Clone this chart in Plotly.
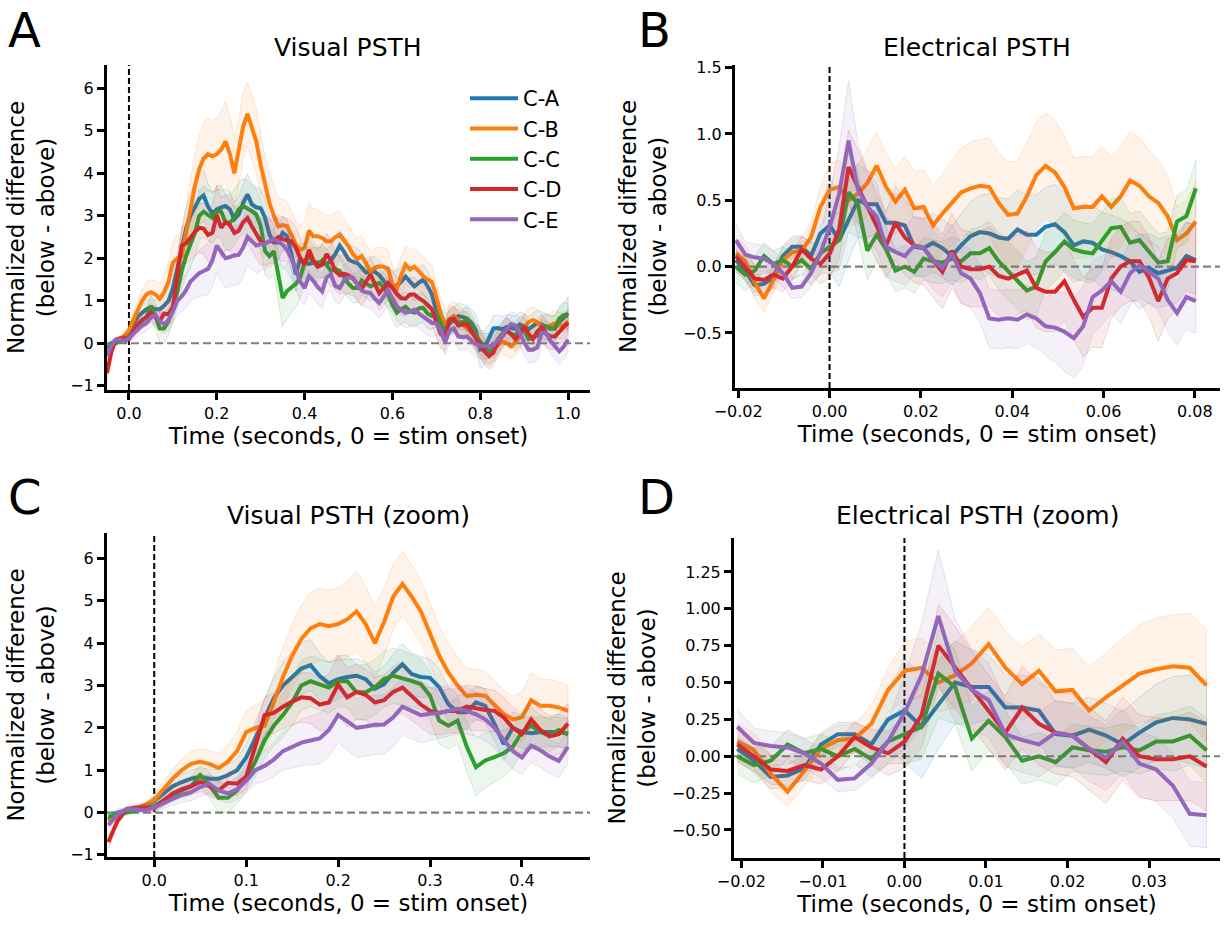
import numpy as np
import plotly.graph_objects as go

# ---------------- data ----------------
labels = ["C-A", "C-B", "C-C", "C-D", "C-E"]
colors = ["#1f77b4", "#ff7f0e", "#2ca02c", "#d62728", "#9467bd"]
rgbs = [(31, 119, 180), (255, 127, 14), (44, 160, 44), (214, 39, 40), (148, 103, 189)]

# Visual PSTH time axis (s): -0.05 .. 1.00 step 0.01 (106 points)
vis_t = np.round(np.arange(-0.05, 1.0001, 0.01), 2)
vis_zoom_end = 0.45

vis_ca = [-0.15, 0.00, 0.05, 0.08, 0.15, 0.28, 0.45, 0.62, 0.72, 0.80, 0.84, 0.80, 0.80, 0.88, 1.00, 1.30, 1.75, 2.25, 2.70, 3.00,
          3.20, 3.40, 3.48, 3.22, 3.05, 3.15, 3.20, 3.23, 3.15, 2.92, 3.03, 3.30, 3.50, 3.27, 3.20, 3.18, 2.96, 2.56, 2.37, 2.37,
          2.60, 2.52, 2.10, 1.62, 2.00, 1.90, 1.87, 1.90, 1.90, 1.90, 1.86,
          1.95, 2.10, 2.30, 2.15, 1.97, 1.92, 1.89, 1.78, 1.66, 1.70, 1.68, 1.60, 1.45, 1.34, 1.36, 1.35, 1.45, 1.57, 1.45, 1.34,
          1.42, 1.50, 1.35, 1.15, 0.75, 0.52, 0.40, 0.46, 0.56, 0.64, 0.62, 0.58, 0.48, 0.30, -0.15, -0.10, 0.12, 0.35, 0.36, 0.33,
          0.38, 0.36, 0.34, 0.44, 0.40, 0.33, 0.40, 0.48, 0.44, 0.39, 0.34, 0.36, 0.50, 0.60, 0.71]
vis_cb = [-0.20, -0.05, 0.03, 0.08, 0.18, 0.30, 0.55, 0.80, 1.00, 1.15, 1.20, 1.15, 1.05, 1.20, 1.45, 1.90, 2.00, 2.05, 2.60, 3.20,
          3.70, 4.10, 4.35, 4.45, 4.40, 4.45, 4.56, 4.75, 4.45, 4.00, 4.50, 5.10, 5.40, 5.10, 4.75, 4.20, 3.70, 3.30, 3.00, 2.75,
          2.78, 2.76, 2.55, 2.33, 2.20, 2.25, 2.65, 2.52, 2.52, 2.48, 2.40,
          2.40, 2.50, 2.56, 2.42, 2.28, 2.10, 1.98, 2.05, 1.88, 1.70, 1.78, 1.81, 1.80, 1.75, 1.38, 1.28, 1.60, 1.85, 1.74, 1.80,
          1.70, 1.58, 1.50, 1.44, 1.10, 0.70, 0.42, 0.58, 0.64, 0.55, 0.45, 0.34, 0.25, 0.16, 0.00, -0.18, -0.23, -0.14, -0.04, 0.04,
          0.00, -0.07, 0.02, 0.15, 0.38, 0.50, 0.55, 0.49, 0.40, 0.33, 0.42, 0.47, 0.42, 0.42, 0.52]
vis_cc = [-0.10, -0.05, 0.00, 0.05, 0.12, 0.15, 0.28, 0.42, 0.52, 0.62, 0.88, 0.65, 0.35, 0.35, 0.52, 0.82, 1.20, 1.70, 2.05, 2.30,
          2.60, 3.00, 3.10, 3.02, 2.95, 3.10, 3.10, 2.84, 2.84, 2.96, 3.15, 3.23, 3.18, 3.11, 3.03, 2.76, 2.17, 2.05, 2.17, 1.55,
          1.07, 1.23, 1.31, 1.40, 1.55, 1.90, 2.05, 1.90, 1.82, 1.95, 1.85,
          1.70, 1.75, 1.70, 1.55, 1.40, 1.30, 1.30, 1.48, 1.42, 1.34, 1.38, 1.42, 1.32, 1.16, 0.90, 0.72, 0.80, 0.86, 0.76, 0.72,
          0.82, 0.84, 0.70, 0.64, 0.68, 0.45, 0.26, 0.48, 0.54, 0.48, 0.50, 0.56, 0.40, 0.18, 0.04, -0.08, -0.20, -0.12, 0.09, 0.22,
          0.30, 0.22, 0.18, 0.34, 0.30, 0.10, 0.12, 0.18, 0.32, 0.40, 0.36, 0.34, 0.58, 0.66, 0.64]
vis_cd = [-0.70, -0.20, 0.08, 0.12, 0.12, 0.10, 0.28, 0.45, 0.55, 0.62, 0.72, 0.62, 0.52, 0.70, 0.68, 0.85, 1.55, 2.30, 2.35, 2.50,
          2.62, 2.72, 2.70, 2.55, 2.60, 3.02, 2.72, 2.85, 2.78, 2.60, 2.65, 2.85, 2.95, 2.75, 2.55, 2.40, 2.35, 2.40, 2.40, 2.50,
          2.45, 2.42, 2.40, 2.25, 2.00, 1.85, 2.20, 1.95, 1.80, 1.85, 2.10,
          1.95, 1.70, 1.60, 1.64, 1.60, 1.52, 1.40, 1.28, 1.45, 1.62, 1.40, 1.18, 1.30, 1.42, 1.30, 1.16, 1.06, 1.05, 1.15, 1.15,
          1.06, 1.00, 0.90, 0.80, 0.50, 0.22, 0.15, 0.55, 0.58, 0.42, 0.44, 0.45, 0.28, 0.12, -0.05, -0.20, -0.30, -0.22, 0.02, 0.18,
          0.30, 0.22, 0.10, 0.22, 0.40, 0.22, 0.10, 0.28, 0.38, 0.22, 0.16, 0.16, 0.28, 0.38, 0.48]
vis_ce = [-0.30, -0.05, 0.08, 0.08, 0.05, 0.12, 0.22, 0.32, 0.42, 0.48, 0.60, 0.68, 0.52, 0.45, 0.55, 0.75, 1.00, 1.10, 1.25, 1.45,
          1.55, 1.65, 1.70, 1.75, 1.95, 2.30, 2.15, 2.00, 2.03, 2.07, 2.08, 2.25, 2.50, 2.40, 2.30, 2.33, 2.35, 2.40, 2.45, 2.40,
          2.32, 2.20, 2.00, 1.72, 1.45, 1.30, 1.58, 1.47, 1.32, 1.22, 1.55,
          1.62, 1.35, 1.30, 1.48, 1.55, 1.55, 1.38, 1.24, 1.20, 1.18, 1.05, 0.95, 1.10, 1.25, 1.05, 0.88, 0.78, 0.72, 0.74, 0.79,
          0.70, 0.62, 0.54, 0.48, 0.48, 0.30, 0.02, 0.30, 0.35, 0.16, 0.14, 0.16, 0.06, -0.02, -0.06, -0.07, -0.07, -0.05, 0.05, 0.18,
          0.34, 0.45, 0.42, 0.25, 0.02, -0.15, -0.15, -0.10, 0.25, 0.25, 0.05, -0.08, -0.19, -0.08, 0.09]

# half-width of shaded error bands (visual)
vis_ca_err = [0.10, 0.08, 0.06, 0.06, 0.08, 0.10, 0.12, 0.15, 0.18, 0.20, 0.22, 0.22, 0.22, 0.25, 0.28, 0.32, 0.38, 0.42, 0.48, 0.55,
              0.60, 0.62, 0.60, 0.55, 0.50, 0.45, 0.42, 0.40, 0.40, 0.40, 0.42, 0.45, 0.48, 0.50, 0.48, 0.45, 0.42, 0.40, 0.40, 0.40,
              0.40, 0.40, 0.40, 0.40, 0.38, 0.38, 0.38, 0.35, 0.35, 0.35, 0.35, 0.35, 0.35, 0.35, 0.35, 0.35, 0.35, 0.35, 0.35, 0.35,
              0.35, 0.35, 0.35, 0.35, 0.35, 0.35, 0.35, 0.35, 0.35, 0.35, 0.35, 0.35, 0.35, 0.35, 0.32, 0.30, 0.30, 0.30, 0.30, 0.30,
              0.30, 0.30, 0.30, 0.32, 0.38, 0.45, 0.40, 0.32, 0.30, 0.30, 0.30, 0.30, 0.30, 0.30, 0.30, 0.30, 0.30, 0.30, 0.30, 0.30,
              0.30, 0.30, 0.30, 0.30, 0.32, 0.38]
vis_cb_err = [0.10, 0.08, 0.06, 0.06, 0.08, 0.12, 0.18, 0.22, 0.26, 0.30, 0.30, 0.32, 0.35, 0.40, 0.45, 0.50, 0.55, 0.60, 0.65, 0.70,
              0.75, 0.80, 0.85, 0.85, 0.85, 0.85, 0.90, 0.95, 0.90, 0.85, 0.80, 0.78, 0.75, 0.75, 0.75, 0.75, 0.70, 0.70, 0.68, 0.65,
              0.60, 0.58, 0.55, 0.55, 0.55, 0.60, 0.65, 0.65, 0.62, 0.60, 0.60, 0.60, 0.58, 0.55, 0.52, 0.50, 0.50, 0.50, 0.48, 0.46,
              0.45, 0.45, 0.45, 0.45, 0.45, 0.45, 0.45, 0.45, 0.45, 0.45, 0.45, 0.45, 0.45, 0.42, 0.40, 0.38, 0.36, 0.35, 0.35, 0.35,
              0.35, 0.35, 0.32, 0.30, 0.30, 0.30, 0.30, 0.30, 0.30, 0.30, 0.30, 0.30, 0.30, 0.30, 0.30, 0.30, 0.30, 0.30, 0.30, 0.30,
              0.30, 0.30, 0.30, 0.30, 0.30, 0.30]
vis_cc_err = [0.10, 0.08, 0.06, 0.06, 0.08, 0.10, 0.12, 0.15, 0.18, 0.20, 0.25, 0.30, 0.35, 0.35, 0.32, 0.32, 0.36, 0.42, 0.48, 0.52,
              0.55, 0.58, 0.60, 0.60, 0.60, 0.60, 0.62, 0.65, 0.65, 0.65, 0.65, 0.65, 0.65, 0.62, 0.60, 0.58, 0.55, 0.55, 0.55, 0.58,
              0.68, 0.65, 0.60, 0.55, 0.50, 0.45, 0.42, 0.40, 0.38, 0.38, 0.38, 0.38, 0.36, 0.36, 0.35, 0.35, 0.35, 0.35, 0.35, 0.35,
              0.35, 0.35, 0.35, 0.35, 0.35, 0.35, 0.35, 0.35, 0.35, 0.35, 0.35, 0.35, 0.35, 0.35, 0.32, 0.30, 0.30, 0.30, 0.30, 0.30,
              0.30, 0.30, 0.30, 0.30, 0.30, 0.30, 0.30, 0.30, 0.30, 0.30, 0.30, 0.30, 0.30, 0.30, 0.30, 0.30, 0.30, 0.30, 0.30, 0.30,
              0.30, 0.30, 0.30, 0.30, 0.30, 0.30]
vis_cd_err = [0.15, 0.10, 0.06, 0.06, 0.08, 0.10, 0.12, 0.15, 0.18, 0.20, 0.22, 0.22, 0.22, 0.25, 0.28, 0.30, 0.36, 0.42, 0.48, 0.52,
              0.55, 0.58, 0.60, 0.62, 0.65, 0.70, 0.70, 0.65, 0.60, 0.60, 0.60, 0.60, 0.60, 0.58, 0.55, 0.55, 0.52, 0.52, 0.52, 0.52,
              0.52, 0.50, 0.48, 0.48, 0.48, 0.48, 0.48, 0.48, 0.48, 0.48, 0.48, 0.46, 0.46, 0.45, 0.45, 0.45, 0.40, 0.40, 0.40, 0.40,
              0.40, 0.40, 0.40, 0.40, 0.40, 0.40, 0.40, 0.40, 0.40, 0.40, 0.40, 0.40, 0.38, 0.35, 0.35, 0.35, 0.35, 0.32, 0.30, 0.30,
              0.30, 0.30, 0.30, 0.30, 0.30, 0.30, 0.30, 0.30, 0.30, 0.30, 0.30, 0.30, 0.30, 0.30, 0.30, 0.30, 0.30, 0.30, 0.30, 0.30,
              0.30, 0.30, 0.30, 0.30, 0.30, 0.30]
vis_ce_err = [0.10, 0.08, 0.06, 0.06, 0.08, 0.10, 0.12, 0.15, 0.18, 0.20, 0.22, 0.22, 0.22, 0.22, 0.25, 0.28, 0.32, 0.36, 0.40, 0.45,
              0.50, 0.55, 0.58, 0.60, 0.62, 0.65, 0.68, 0.70, 0.70, 0.70, 0.70, 0.70, 0.68, 0.65, 0.65, 0.62, 0.60, 0.60, 0.58, 0.55,
              0.52, 0.50, 0.48, 0.45, 0.42, 0.40, 0.40, 0.40, 0.40, 0.40, 0.38, 0.38, 0.38, 0.38, 0.36, 0.36, 0.36, 0.35, 0.35, 0.35,
              0.35, 0.35, 0.35, 0.35, 0.35, 0.35, 0.35, 0.35, 0.35, 0.35, 0.35, 0.35, 0.35, 0.35, 0.32, 0.30, 0.30, 0.30, 0.30, 0.30,
              0.30, 0.30, 0.30, 0.30, 0.30, 0.30, 0.30, 0.30, 0.30, 0.30, 0.30, 0.30, 0.30, 0.30, 0.30, 0.30, 0.30, 0.30, 0.30, 0.30,
              0.30, 0.30, 0.30, 0.30, 0.30, 0.30]

# Electrical PSTH time axis (s): 50 bins from -0.0205 to 0.0802
elec_t = np.linspace(-0.0205, 0.0802, 50)
elec_zoom_end = 0.0375

el_ca = [0.05, -0.03, -0.14, -0.13, -0.08, 0.08, 0.15, 0.15, 0.08, 0.25, 0.31, 0.20, 0.35, 0.50, 0.47, 0.47, 0.33, 0.33, 0.31, 0.15,
         0.14, 0.18, 0.14, 0.08, 0.16, 0.23, 0.26, 0.25, 0.22,
         0.21, 0.28, 0.24, 0.24, 0.30, 0.32, 0.26, 0.16, 0.19, 0.18, 0.13, 0.11, 0.08, 0.04, -0.04, -0.01, -0.05, -0.03, -0.01, 0.08, 0.05]
el_cb = [0.10, 0.04, -0.12, -0.24, -0.10, 0.05, 0.11, 0.12, 0.22, 0.45, 0.58, 0.60, 0.50, 0.55, 0.63, 0.76, 0.60, 0.49, 0.58, 0.44,
         0.45, 0.31, 0.40, 0.48, 0.56, 0.59, 0.61, 0.60, 0.48,
         0.39, 0.40, 0.53, 0.69, 0.76, 0.71, 0.60, 0.44, 0.45, 0.45, 0.53, 0.45, 0.53, 0.65, 0.61, 0.53, 0.48, 0.38, 0.20, 0.25, 0.34]
el_cc = [0.00, -0.06, -0.03, 0.08, 0.02, 0.05, 0.00, 0.05, -0.02, 0.10, 0.15, 0.20, 0.56, 0.47, 0.12, 0.24, 0.13, -0.03, 0.00, -0.04,
         0.06, 0.04, 0.03, 0.06, 0.04, 0.10, 0.10, 0.14, 0.04,
         -0.03, -0.10, -0.18, -0.15, 0.04, 0.11, 0.19, 0.13, 0.11, 0.10, 0.19, 0.29, 0.30, 0.18, 0.20, 0.11, 0.03, 0.04, 0.34, 0.38, 0.59]
el_cd = [0.08, 0.00, -0.09, -0.10, -0.06, -0.09, 0.00, 0.13, 0.06, 0.02, 0.10, 0.28, 0.75, 0.60, 0.45, 0.30, 0.16, 0.33, 0.22, 0.16,
         0.14, 0.05, -0.04, 0.12, 0.00, -0.02, -0.02, 0.00, -0.07,
         -0.09, -0.06, -0.03, -0.16, -0.19, -0.19, -0.11, -0.25, -0.38, -0.31, -0.31, -0.09, 0.00, 0.04, 0.04, -0.08, -0.26, -0.09, -0.05, 0.05, 0.04]
el_ce = [0.20, 0.09, 0.07, 0.06, 0.02, -0.05, -0.16, -0.15, -0.05, 0.10, 0.30, 0.55, 0.95, 0.58, 0.45, 0.38, 0.15, 0.11, 0.08, 0.16,
         0.14, 0.05, -0.01, 0.10, -0.05, -0.09, -0.20, -0.39, -0.40,
         -0.39, -0.40, -0.36, -0.39, -0.45, -0.46, -0.49, -0.54, -0.45, -0.23, -0.18, -0.11, -0.19, -0.05, 0.01, -0.04, -0.09, -0.25, -0.35, -0.23, -0.26]

el_ca_err = [0.08, 0.08, 0.08, 0.08, 0.08, 0.08, 0.08, 0.08, 0.10, 0.20, 0.35, 0.35, 0.30, 0.28, 0.25, 0.22, 0.22, 0.22, 0.22, 0.22,
             0.22, 0.22, 0.22, 0.22, 0.24, 0.26, 0.28, 0.30, 0.30, 0.30, 0.30, 0.30, 0.30, 0.30, 0.30, 0.30, 0.28, 0.28, 0.28, 0.28,
             0.28, 0.28, 0.28, 0.28, 0.26, 0.26, 0.26, 0.26, 0.26, 0.26]
el_cb_err = [0.12, 0.12, 0.12, 0.10, 0.10, 0.10, 0.10, 0.10, 0.12, 0.15, 0.20, 0.20, 0.20, 0.22, 0.25, 0.25, 0.25, 0.25, 0.25, 0.28,
             0.28, 0.30, 0.30, 0.32, 0.33, 0.35, 0.35, 0.37, 0.38, 0.40, 0.40, 0.40, 0.40, 0.40, 0.40, 0.38, 0.38, 0.38, 0.38, 0.38,
             0.38, 0.38, 0.37, 0.36, 0.35, 0.33, 0.30, 0.25, 0.25, 0.30]
el_cc_err = [0.12, 0.12, 0.10, 0.10, 0.10, 0.10, 0.10, 0.10, 0.12, 0.15, 0.20, 0.22, 0.30, 0.25, 0.22, 0.20, 0.18, 0.16, 0.16, 0.16,
             0.16, 0.16, 0.16, 0.16, 0.16, 0.18, 0.20, 0.20, 0.22, 0.22, 0.22, 0.22, 0.22, 0.22, 0.22, 0.22, 0.22, 0.22, 0.22, 0.22,
             0.22, 0.22, 0.22, 0.22, 0.22, 0.22, 0.22, 0.20, 0.20, 0.21]
el_cd_err = [0.12, 0.10, 0.10, 0.10, 0.10, 0.10, 0.10, 0.10, 0.12, 0.15, 0.18, 0.22, 0.28, 0.28, 0.26, 0.25, 0.25, 0.28, 0.28, 0.28,
             0.28, 0.28, 0.28, 0.28, 0.28, 0.28, 0.28, 0.30, 0.30, 0.30, 0.30, 0.30, 0.30, 0.30, 0.30, 0.30, 0.30, 0.30, 0.30, 0.30,
             0.30, 0.30, 0.30, 0.30, 0.30, 0.30, 0.30, 0.28, 0.28, 0.28]
el_ce_err = [0.12, 0.10, 0.10, 0.10, 0.10, 0.10, 0.08, 0.08, 0.10, 0.15, 0.25, 0.35, 0.45, 0.35, 0.28, 0.25, 0.22, 0.22, 0.22, 0.22,
             0.22, 0.22, 0.22, 0.22, 0.22, 0.22, 0.22, 0.22, 0.22, 0.22, 0.22, 0.22, 0.22, 0.22, 0.26, 0.30, 0.30, 0.30, 0.28, 0.26,
             0.24, 0.24, 0.24, 0.24, 0.24, 0.24, 0.24, 0.24, 0.24, 0.24]

vis_means = [vis_ca, vis_cb, vis_cc, vis_cd, vis_ce]
vis_errs = [vis_ca_err, vis_cb_err, vis_cc_err, vis_cd_err, vis_ce_err]
el_means = [el_ca, el_cb, el_cc, el_cd, el_ce]
el_errs = [el_ca_err, el_cb_err, el_cc_err, el_cd_err, el_ce_err]

# ---------------- figure ----------------
FONT = "DejaVu Sans"
W, H = 1225, 926

def px_x(p):
    return p / W

def px_y(p):
    return 1 - p / H

panels = [
    dict(ax="", t=vis_t, means=vis_means, errs=vis_errs, tend=None, xr=[-0.05, 1.05], yr=[-1.1, 6.55],
         xd=(107, 590), yd=(65, 390), dx=0.2, fx=".1f", dy=1, fy="d", legend=True),
    dict(ax="2", t=elec_t, means=el_means, errs=el_errs, tend=None, xr=[-0.0207, 0.0855], yr=[-0.915, 1.52],
         xd=(735, 1220), yd=(65, 388), dx=0.02, fx=".2f", dy=0.5, fy=".1f", legend=False),
    dict(ax="3", t=vis_t, means=vis_means, errs=vis_errs, tend=vis_zoom_end + 0.005, xr=[-0.0514, 0.474], yr=[-1.05, 6.6],
         xd=(107, 590), yd=(533, 857), dx=0.1, fx=".1f", dy=1, fy="d", legend=False),
    dict(ax="4", t=elec_t, means=el_means, errs=el_errs, tend=elec_zoom_end, xr=[-0.0209, 0.0387], yr=[-0.69, 1.48],
         xd=(734, 1220), yd=(538, 858), dx=0.01, fx=".2f", dy=0.25, fy=".2f", legend=False),
]

fig = go.Figure()
shapes = []
layout_axes = {}

axis_common = dict(showline=True, linewidth=3, linecolor="black", mirror=False,
                   ticks="outside", ticklen=7, tickwidth=3, tickcolor="black",
                   showgrid=False, zeroline=False, automargin=False,
                   tickfont=dict(family=FONT, size=16, color="black"))

for p in panels:
    xa = "x" + p["ax"]
    ya = "y" + p["ax"]
    t = np.asarray(p["t"])
    mask = np.ones(len(t), dtype=bool) if p["tend"] is None else (t <= p["tend"])
    tt = t[mask]
    for i in range(5):
        m = np.asarray(p["means"][i])[mask]
        e = np.asarray(p["errs"][i])[mask]
        r, g, b = rgbs[i]
        fig.add_trace(go.Scatter(
            x=np.concatenate([tt, tt[::-1]]),
            y=np.concatenate([m + e, (m - e)[::-1]]),
            fill="toself", fillcolor=f"rgba({r},{g},{b},0.09)",
            line=dict(color=f"rgba({r},{g},{b},0.18)", width=1),
            mode="lines", hoverinfo="skip", showlegend=False,
            xaxis=xa, yaxis=ya))
        fig.add_trace(go.Scatter(
            x=tt, y=m, mode="lines", name=labels[i],
            line=dict(color=colors[i], width=4),
            showlegend=p["legend"], legendgroup=labels[i],
            xaxis=xa, yaxis=ya))
    shapes.append(dict(type="line", xref=f"{xa} domain", x0=0, x1=1, yref=ya, y0=0, y1=0,
                       line=dict(color="grey", width=2.2, dash="8px,4px"), layer="below"))
    shapes.append(dict(type="line", xref=xa, x0=0, x1=0, yref=f"{ya} domain", y0=0, y1=1,
                       line=dict(color="black", width=2, dash="6px,3px"), layer="below"))

    xkey = "xaxis" + p["ax"]
    ykey = "yaxis" + p["ax"]
    layout_axes[xkey] = dict(axis_common, domain=[px_x(p["xd"][0]), px_x(p["xd"][1])], anchor=ya,
                             range=p["xr"], dtick=p["dx"], tick0=0, tickformat=p["fx"],
                             title=dict(text="Time (seconds, 0 = stim onset)",
                                        font=dict(family=FONT, size=23, color="black"), standoff=4))
    layout_axes[ykey] = dict(axis_common, domain=[px_y(p["yd"][1]), px_y(p["yd"][0])], anchor=xa,
                             range=p["yr"], dtick=p["dy"], tick0=0, tickformat=p["fy"],
                             title=dict(text="Normalized difference<br>(below - above)",
                                        font=dict(family=FONT, size=23, color="black"), standoff=10))

titles = [("Visual PSTH", 348), ("Electrical PSTH", 977), ("Visual PSTH (zoom)", 348), ("Electrical PSTH (zoom)", 977)]
title_y = [47, 47, 515, 515]
letters = [("A", 6, 30), ("B", 636, 30), ("C", 6, 497), ("D", 636, 497)]
annotations = []
for (txt, cx), ty in zip(titles, title_y):
    annotations.append(dict(text=txt, x=px_x(cx), y=px_y(ty), xref="paper", yref="paper",
                            xanchor="center", yanchor="middle", showarrow=False,
                            font=dict(family=FONT, size=25, color="black")))
for txt, lx, ly in letters:
    annotations.append(dict(text=txt, x=px_x(lx), y=px_y(ly), xref="paper", yref="paper",
                            xanchor="left", yanchor="middle", showarrow=False,
                            font=dict(family=FONT, size=48, color="black")))

fig.update_layout(
    width=W, height=H,
    margin=dict(l=0, r=0, t=0, b=0, autoexpand=False),
    paper_bgcolor="white", plot_bgcolor="white",
    font=dict(family=FONT, color="black"),
    shapes=shapes, annotations=annotations,
    legend=dict(x=px_x(465), y=px_y(78), xanchor="left", yanchor="top",
                font=dict(family=FONT, size=21, color="black"),
                bgcolor="rgba(0,0,0,0)", tracegroupgap=0, itemwidth=48),
    showlegend=True,
    **layout_axes,
)

fig.write_html("out.html")
